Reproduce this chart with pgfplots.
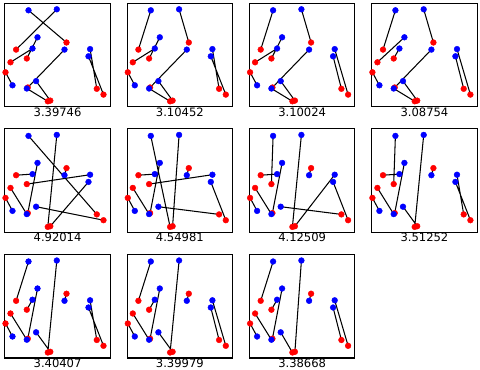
\documentclass[border=0pt]{standalone}
\usepackage{pgfplots}
\usepackage{pgfplotstable}
\pgfplotsset{compat=1.18}
\usepackage{fontspec}
\setmainfont{DejaVu Sans}
\pgfplotstableread{
x y
23.7 96.5
52 97.5
32.7 69.5
27.7 58.3
59.7 57.2
85.3 57.7
83.7 50.5
31.3 25.7
22 18.3
7.7 21.5
}\bluepts
\pgfplotstableread{
x y
61.7 64.3
11.3 57.2
22 48.3
5.7 44.5
0.7 34.5
92 18
98.7 12.2
43 5.5
45.5 6.2
23 19.3
}\redpts
\begin{document}
\begin{tikzpicture}
\useasboundingbox (0bp,0bp) rectangle (480bp,-370bp);
\pgfplotsset{
  panel/.style={
    width=105.5bp, height=103.5bp, scale only axis,
    xmin=0, xmax=105.5, ymin=0, ymax=103.5,
    xtick=\empty, ytick=\empty,
    axis line style={black, line width=1.1bp},
    anchor=north west,
    unbounded coords=jump,
    clip=false,
    xlabel style={at={(axis description cs:0.5,0)}, anchor=north, inner sep=0pt, yshift=-0.6bp, font=\fontsize{11.6}{13}\selectfont},
  },
  edge/.style={black, line width=1.05bp, mark=none},
  rpts/.style={only marks, mark=*, mark size=2.9bp, color=red},
  bpts/.style={only marks, mark=*, mark size=2.9bp, color=blue},
}
% Panel 1
\begin{axis}[panel, at={(4.8bp,-3.3bp)}, xlabel={3.39746}]
\addplot[edge] coordinates {(23.7,96.5) (61.7,64.3) (nan,nan) (52,97.5) (11.3,57.2) (nan,nan) (32.7,69.5) (22,48.3) (nan,nan) (27.7,58.3) (5.7,44.5) (nan,nan) (59.7,57.2) (23,19.3) (nan,nan) (85.3,57.7) (92,18) (nan,nan) (83.7,50.5) (98.7,12.2) (nan,nan) (31.3,25.7) (45.5,6.2) (nan,nan) (22,18.3) (43,5.5) (nan,nan) (7.7,21.5) (0.7,34.5)};
\addplot[rpts] table {\redpts};
\addplot[bpts] table {\bluepts};
\end{axis}
% Panel 2
\begin{axis}[panel, at={(127.1bp,-3.3bp)}, xlabel={3.10452}]
\addplot[edge] coordinates {(23.7,96.5) (11.3,57.2) (nan,nan) (52,97.5) (61.7,64.3) (nan,nan) (32.7,69.5) (22,48.3) (nan,nan) (27.7,58.3) (5.7,44.5) (nan,nan) (59.7,57.2) (23,19.3) (nan,nan) (85.3,57.7) (92,18) (nan,nan) (83.7,50.5) (98.7,12.2) (nan,nan) (31.3,25.7) (45.5,6.2) (nan,nan) (22,18.3) (43,5.5) (nan,nan) (7.7,21.5) (0.7,34.5)};
\addplot[rpts] table {\redpts};
\addplot[bpts] table {\bluepts};
\end{axis}
% Panel 3
\begin{axis}[panel, at={(249.4bp,-3.3bp)}, xlabel={3.10024}]
\addplot[edge] coordinates {(23.7,96.5) (11.3,57.2) (nan,nan) (52,97.5) (61.7,64.3) (nan,nan) (32.7,69.5) (22,48.3) (nan,nan) (27.7,58.3) (5.7,44.5) (nan,nan) (59.7,57.2) (23,19.3) (nan,nan) (85.3,57.7) (98.7,12.2) (nan,nan) (83.7,50.5) (92,18) (nan,nan) (31.3,25.7) (45.5,6.2) (nan,nan) (22,18.3) (43,5.5) (nan,nan) (7.7,21.5) (0.7,34.5)};
\addplot[rpts] table {\redpts};
\addplot[bpts] table {\bluepts};
\end{axis}
% Panel 4
\begin{axis}[panel, at={(371.7bp,-3.3bp)}, xlabel={3.08754}]
\addplot[edge] coordinates {(23.7,96.5) (11.3,57.2) (nan,nan) (52,97.5) (61.7,64.3) (nan,nan) (32.7,69.5) (5.7,44.5) (nan,nan) (27.7,58.3) (22,48.3) (nan,nan) (59.7,57.2) (23,19.3) (nan,nan) (85.3,57.7) (98.7,12.2) (nan,nan) (83.7,50.5) (92,18) (nan,nan) (31.3,25.7) (45.5,6.2) (nan,nan) (22,18.3) (43,5.5) (nan,nan) (7.7,21.5) (0.7,34.5)};
\addplot[rpts] table {\redpts};
\addplot[bpts] table {\bluepts};
\end{axis}
% Panel 5
\begin{axis}[panel, at={(4.8bp,-128.9bp)}, xlabel={4.92014}]
\addplot[edge] coordinates {(23.7,96.5) (92,18) (nan,nan) (52,97.5) (43,5.5) (nan,nan) (32.7,69.5) (23,19.3) (nan,nan) (27.7,58.3) (11.3,57.2) (nan,nan) (59.7,57.2) (61.7,64.3) (nan,nan) (85.3,57.7) (22,48.3) (nan,nan) (83.7,50.5) (45.5,6.2) (nan,nan) (31.3,25.7) (98.7,12.2) (nan,nan) (22,18.3) (5.7,44.5) (nan,nan) (7.7,21.5) (0.7,34.5)};
\addplot[rpts] table {\redpts};
\addplot[bpts] table {\bluepts};
\end{axis}
% Panel 6
\begin{axis}[panel, at={(127.1bp,-128.9bp)}, xlabel={4.54981}]
\addplot[edge] coordinates {(23.7,96.5) (43,5.5) (nan,nan) (52,97.5) (45.5,6.2) (nan,nan) (32.7,69.5) (23,19.3) (nan,nan) (27.7,58.3) (11.3,57.2) (nan,nan) (59.7,57.2) (61.7,64.3) (nan,nan) (85.3,57.7) (22,48.3) (nan,nan) (83.7,50.5) (98.7,12.2) (nan,nan) (31.3,25.7) (92,18) (nan,nan) (22,18.3) (5.7,44.5) (nan,nan) (7.7,21.5) (0.7,34.5)};
\addplot[rpts] table {\redpts};
\addplot[bpts] table {\bluepts};
\end{axis}
% Panel 7
\begin{axis}[panel, at={(249.4bp,-128.9bp)}, xlabel={4.12509}]
\addplot[edge] coordinates {(23.7,96.5) (22,48.3) (nan,nan) (52,97.5) (43,5.5) (nan,nan) (32.7,69.5) (23,19.3) (nan,nan) (27.7,58.3) (11.3,57.2) (nan,nan) (59.7,57.2) (61.7,64.3) (nan,nan) (85.3,57.7) (45.5,6.2) (nan,nan) (83.7,50.5) (98.7,12.2) (nan,nan) (31.3,25.7) (92,18) (nan,nan) (22,18.3) (5.7,44.5) (nan,nan) (7.7,21.5) (0.7,34.5)};
\addplot[rpts] table {\redpts};
\addplot[bpts] table {\bluepts};
\end{axis}
% Panel 8
\begin{axis}[panel, at={(371.7bp,-128.9bp)}, xlabel={3.51252}]
\addplot[edge] coordinates {(23.7,96.5) (22,48.3) (nan,nan) (52,97.5) (43,5.5) (nan,nan) (32.7,69.5) (23,19.3) (nan,nan) (27.7,58.3) (11.3,57.2) (nan,nan) (59.7,57.2) (61.7,64.3) (nan,nan) (85.3,57.7) (92,18) (nan,nan) (83.7,50.5) (98.7,12.2) (nan,nan) (31.3,25.7) (45.5,6.2) (nan,nan) (22,18.3) (5.7,44.5) (nan,nan) (7.7,21.5) (0.7,34.5)};
\addplot[rpts] table {\redpts};
\addplot[bpts] table {\bluepts};
\end{axis}
% Panel 9
\begin{axis}[panel, at={(4.8bp,-254.5bp)}, xlabel={3.40407}]
\addplot[edge] coordinates {(23.7,96.5) (11.3,57.2) (nan,nan) (52,97.5) (43,5.5) (nan,nan) (32.7,69.5) (23,19.3) (nan,nan) (27.7,58.3) (22,48.3) (nan,nan) (59.7,57.2) (61.7,64.3) (nan,nan) (85.3,57.7) (92,18) (nan,nan) (83.7,50.5) (98.7,12.2) (nan,nan) (31.3,25.7) (45.5,6.2) (nan,nan) (22,18.3) (5.7,44.5) (nan,nan) (7.7,21.5) (0.7,34.5)};
\addplot[rpts] table {\redpts};
\addplot[bpts] table {\bluepts};
\end{axis}
% Panel 10
\begin{axis}[panel, at={(127.1bp,-254.5bp)}, xlabel={3.39979}]
\addplot[edge] coordinates {(23.7,96.5) (11.3,57.2) (nan,nan) (52,97.5) (43,5.5) (nan,nan) (32.7,69.5) (23,19.3) (nan,nan) (27.7,58.3) (22,48.3) (nan,nan) (59.7,57.2) (61.7,64.3) (nan,nan) (85.3,57.7) (98.7,12.2) (nan,nan) (83.7,50.5) (92,18) (nan,nan) (31.3,25.7) (45.5,6.2) (nan,nan) (22,18.3) (5.7,44.5) (nan,nan) (7.7,21.5) (0.7,34.5)};
\addplot[rpts] table {\redpts};
\addplot[bpts] table {\bluepts};
\end{axis}
% Panel 11
\begin{axis}[panel, at={(249.4bp,-254.5bp)}, xlabel={3.38668}]
\addplot[edge] coordinates {(23.7,96.5) (11.3,57.2) (nan,nan) (52,97.5) (45.5,6.2) (nan,nan) (32.7,69.5) (23,19.3) (nan,nan) (27.7,58.3) (22,48.3) (nan,nan) (59.7,57.2) (61.7,64.3) (nan,nan) (85.3,57.7) (98.7,12.2) (nan,nan) (83.7,50.5) (92,18) (nan,nan) (31.3,25.7) (43,5.5) (nan,nan) (22,18.3) (5.7,44.5) (nan,nan) (7.7,21.5) (0.7,34.5)};
\addplot[rpts] table {\redpts};
\addplot[bpts] table {\bluepts};
\end{axis}
\end{tikzpicture}
\end{document}
